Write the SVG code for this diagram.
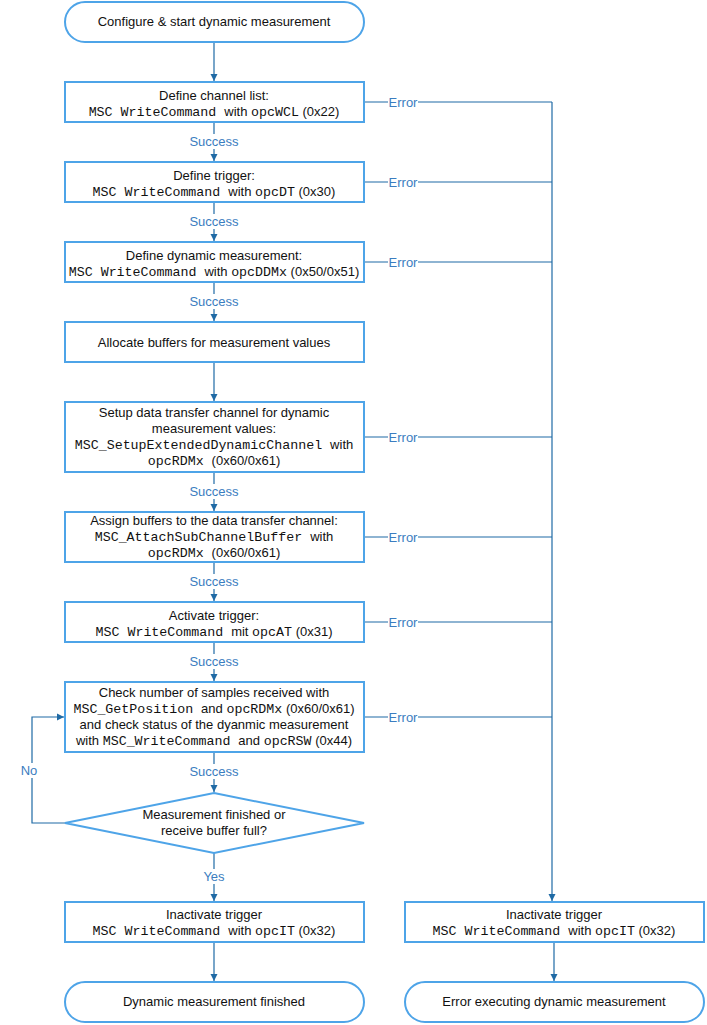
<svg xmlns="http://www.w3.org/2000/svg" width="707" height="1025" viewBox="0 0 707 1025">
<style>
.box{fill:#fff;stroke:#4ea4e8;stroke-width:2}
.t{font-family:"Liberation Sans",Arial,sans-serif;font-size:13px;fill:#111;text-anchor:middle}
.m{font-family:"Liberation Mono","Courier New",monospace;font-size:13.3px}
.c{fill:none;stroke:#1f6aa5;stroke-width:1.2}
.lbl{font-family:"Liberation Sans",Arial,sans-serif;font-size:13px;fill:#3b7dc0;text-anchor:middle}
.bg{fill:#fff}
</style>
<defs>
<marker id="ah" markerWidth="8" markerHeight="8" refX="7" refY="4" orient="auto" markerUnits="userSpaceOnUse">
<path d="M0,0.5 L7,4 L0,7.5 Z" fill="#1f6aa5"/>
</marker>
</defs>
<rect width="707" height="1025" fill="#fff"/>
<g id="connectors">
<path class="c" d="M214,42 V81" marker-end="url(#ah)"/>
<path class="c" d="M214,122 V161" marker-end="url(#ah)"/>
<path class="c" d="M214,202 V241" marker-end="url(#ah)"/>
<path class="c" d="M214,282 V321" marker-end="url(#ah)"/>
<path class="c" d="M214,362 V401" marker-end="url(#ah)"/>
<path class="c" d="M214,472 V511" marker-end="url(#ah)"/>
<path class="c" d="M214,562 V601" marker-end="url(#ah)"/>
<path class="c" d="M214,642 V681" marker-end="url(#ah)"/>
<path class="c" d="M214,752 V792" marker-end="url(#ah)"/>
<path class="c" d="M214,853 V901" marker-end="url(#ah)"/>
<path class="c" d="M214,942 V981" marker-end="url(#ah)"/>
<path class="c" d="M65,823 H32 V717 H64" marker-end="url(#ah)"/>
<path class="c" d="M364,102 H552"/>
<path class="c" d="M364,182 H552"/>
<path class="c" d="M364,262 H552"/>
<path class="c" d="M364,437 H552"/>
<path class="c" d="M364,537 H552"/>
<path class="c" d="M364,622 H552"/>
<path class="c" d="M364,717 H552"/>
<path class="c" d="M552,102 V901" marker-end="url(#ah)"/>
<path class="c" d="M554,942 V981" marker-end="url(#ah)"/>
<g id="labels">
<rect class="bg" x="187" y="134" width="54" height="15"/><text class="lbl" x="214" y="146">Success</text>
<rect class="bg" x="187" y="214" width="54" height="15"/><text class="lbl" x="214" y="226">Success</text>
<rect class="bg" x="187" y="294" width="54" height="15"/><text class="lbl" x="214" y="306">Success</text>
<rect class="bg" x="187" y="484" width="54" height="15"/><text class="lbl" x="214" y="496">Success</text>
<rect class="bg" x="187" y="574" width="54" height="15"/><text class="lbl" x="214" y="586">Success</text>
<rect class="bg" x="187" y="654" width="54" height="15"/><text class="lbl" x="214" y="666">Success</text>
<rect class="bg" x="187" y="764" width="54" height="15"/><text class="lbl" x="214" y="776">Success</text>
<rect class="bg" x="200" y="869" width="28" height="15"/><text class="lbl" x="214" y="881">Yes</text>
<rect class="bg" x="18" y="763" width="22" height="15"/><text class="lbl" x="29" y="775">No</text>
<rect class="bg" x="388" y="95" width="30" height="15"/><text class="lbl" x="403" y="107">Error</text>
<rect class="bg" x="388" y="175" width="30" height="15"/><text class="lbl" x="403" y="187">Error</text>
<rect class="bg" x="388" y="255" width="30" height="15"/><text class="lbl" x="403" y="267">Error</text>
<rect class="bg" x="388" y="430" width="30" height="15"/><text class="lbl" x="403" y="442">Error</text>
<rect class="bg" x="388" y="530" width="30" height="15"/><text class="lbl" x="403" y="542">Error</text>
<rect class="bg" x="388" y="615" width="30" height="15"/><text class="lbl" x="403" y="627">Error</text>
<rect class="bg" x="388" y="710" width="30" height="15"/><text class="lbl" x="403" y="722">Error</text>
</g>
</g>
<g id="start">
<rect class="box" x="65" y="2" width="299" height="40" rx="20"/>
<text class="t" x="214" y="26">Configure &amp; start dynamic measurement</text>
</g>
<g id="define-channel-list">
<rect class="box" x="65" y="82" width="299" height="40"/>
<text class="t" x="214" y="99.5">Define channel list:</text>
<text class="t" x="214" y="115.5"><tspan class="m">MSC WriteCommand </tspan>with <tspan class="m">opcWCL</tspan> (0x22)</text>
</g>
<g id="define-trigger">
<rect class="box" x="65" y="162" width="299" height="40"/>
<text class="t" x="214" y="179.5">Define trigger:</text>
<text class="t" x="214" y="195.5"><tspan class="m">MSC WriteCommand </tspan>with <tspan class="m">opcDT</tspan> (0x30)</text>
</g>
<g id="define-dynamic">
<rect class="box" x="65" y="242" width="299" height="40"/>
<text class="t" x="214" y="259.5">Define dynamic measurement:</text>
<text class="t" x="214" y="275.5"><tspan class="m">MSC WriteCommand </tspan>with <tspan class="m">opcDDMx</tspan> (0x50/0x51)</text>
</g>
<g id="allocate">
<rect class="box" x="65" y="322" width="299" height="40"/>
<text class="t" x="214" y="346.5">Allocate buffers for measurement values</text>
</g>
<g id="setup-channel">
<rect class="box" x="65" y="402" width="299" height="70"/>
<text class="t" x="214" y="417">Setup data transfer channel for dynamic</text>
<text class="t" x="214" y="433">measurement values:</text>
<text class="t" x="214" y="449"><tspan class="m">MSC_SetupExtendedDynamicChannel </tspan>with</text>
<text class="t" x="214" y="465"><tspan class="m">opcRDMx </tspan>(0x60/0x61)</text>
</g>
<g id="assign-buffers">
<rect class="box" x="65" y="512" width="299" height="50"/>
<text class="t" x="214" y="524.5">Assign buffers to the data transfer channel:</text>
<text class="t" x="214" y="541"><tspan class="m">MSC_AttachSubChannelBuffer </tspan>with</text>
<text class="t" x="214" y="557"><tspan class="m">opcRDMx </tspan>(0x60/0x61)</text>
</g>
<g id="activate-trigger">
<rect class="box" x="65" y="602" width="299" height="40"/>
<text class="t" x="214" y="619.5">Activate trigger:</text>
<text class="t" x="214" y="635.5"><tspan class="m">MSC WriteCommand </tspan>mit <tspan class="m">opcAT</tspan> (0x31)</text>
</g>
<g id="check-samples">
<rect class="box" x="65" y="682" width="299" height="70"/>
<text class="t" x="214" y="697">Check number of samples received with</text>
<text class="t" x="214" y="713"><tspan class="m">MSC_GetPosition </tspan>and <tspan class="m">opcRDMx</tspan> (0x60/0x61)</text>
<text class="t" x="214" y="729">and check status of the dyanmic measurement</text>
<text class="t" x="214" y="745">with <tspan class="m">MSC_WriteCommand </tspan>and <tspan class="m">opcRSW</tspan> (0x44)</text>
</g>
<g id="decision">
<polygon class="box" points="214,793 364,823 214,853 65,823"/>
<text class="t" x="214" y="818.5">Measurement finished or</text>
<text class="t" x="214" y="835">receive buffer full?</text>
</g>
<g id="inactivate-ok">
<rect class="box" x="65" y="902" width="299" height="40"/>
<text class="t" x="214" y="918.5">Inactivate trigger</text>
<text class="t" x="214" y="935"><tspan class="m">MSC WriteCommand </tspan>with <tspan class="m">opcIT</tspan> (0x32)</text>
</g>
<g id="end-ok">
<rect class="box" x="65" y="982" width="299" height="40" rx="20"/>
<text class="t" x="214" y="1006">Dynamic measurement finished</text>
</g>
<g id="inactivate-err">
<rect class="box" x="405" y="902" width="299" height="40"/>
<text class="t" x="554" y="918.5">Inactivate trigger</text>
<text class="t" x="554" y="935"><tspan class="m">MSC WriteCommand </tspan>with <tspan class="m">opcIT</tspan> (0x32)</text>
</g>
<g id="end-err">
<rect class="box" x="405" y="982" width="299" height="40" rx="20"/>
<text class="t" x="554" y="1006">Error executing dynamic measurement</text>
</g>
</svg>
